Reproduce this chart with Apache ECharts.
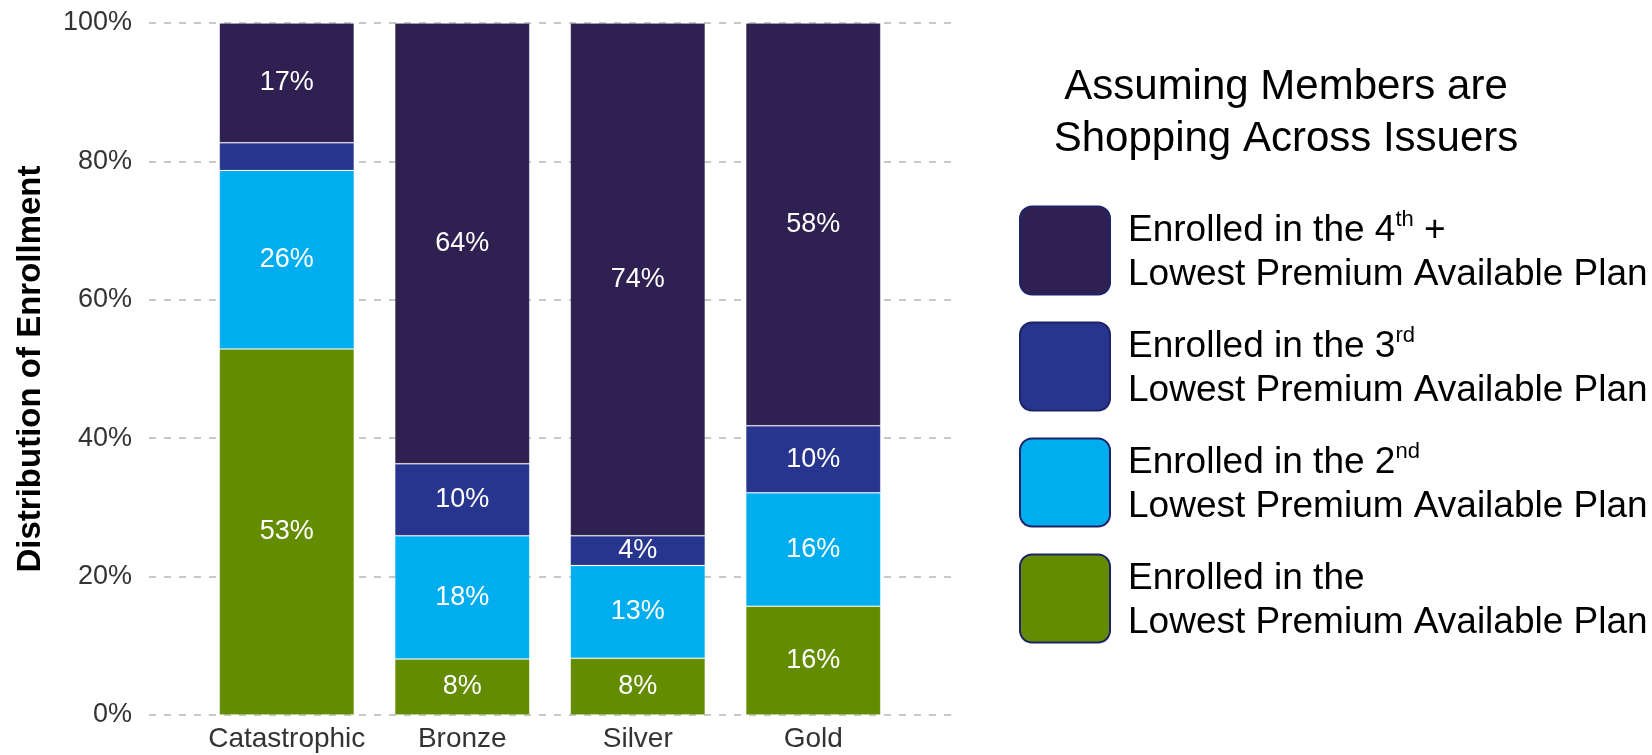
<!DOCTYPE html>
<html>
<head>
<meta charset="utf-8">
<title>Distribution of Enrollment by Metal Level</title>
<script src="https://cdn.jsdelivr.net/npm/echarts@6/dist/echarts.min.js"></script>
<style>
  html, body { margin: 0; padding: 0; background: #ffffff; }
  #chart { width: 1652px; height: 755px; }
</style>
</head>
<body>
<div id="chart"></div>
<script>
// Metal levels along the x axis
const categories = ['Catastrophic', 'Bronze', 'Silver', 'Gold'];

// Share of enrollment (%) by rank of the chosen plan's premium
const lowestPlan     = [52.9,  8.1,  8.2, 15.7];
const secondPlan     = [25.8, 17.8, 13.4, 16.4];
const thirdPlan      = [ 4.0, 10.4,  4.3,  9.7];
const fourthPlusPlan = [17.3, 63.7, 74.1, 58.2];

// Y axis ticks
const yTicks = [0, 20, 40, 60, 80, 100];

// Segments that carry no value label (too thin)
const unlabeled = { third: ['Catastrophic'] };

const FONT = '"Liberation Sans", Arial, Helvetica, sans-serif';

const seriesDefs = [
  { key: 'lowest', values: lowestPlan,     color: '#648c00',
    legend: 'Enrolled in the\nLowest Premium Available Plan' },
  { key: 'second', values: secondPlan,     color: '#00aeef',
    legend: 'Enrolled in the 2{sup|nd}\nLowest Premium Available Plan' },
  { key: 'third',  values: thirdPlan,      color: '#28358f',
    legend: 'Enrolled in the 3{sup|rd}\nLowest Premium Available Plan' },
  { key: 'fourth', values: fourthPlusPlan, color: '#2e2152',
    legend: 'Enrolled in the 4{sup|th} +\nLowest Premium Available Plan' }
];

const legendText = {};
seriesDefs.forEach(d => { legendText[d.key] = d.legend; });

const barSeries = seriesDefs.map(d => ({
  name: d.key,
  type: 'bar',
  xAxisIndex: 1,
  yAxisIndex: 1,
  stack: 'enrollment',
  barWidth: 135,
  z: 3,
  itemStyle: { color: d.color, borderColor: 'rgba(255,255,255,0.12)', borderWidth: 1 },
  label: {
    show: true,
    position: 'inside',
    color: '#ffffff',
    fontFamily: FONT,
    fontSize: 27,
    formatter: p => Math.round(p.value) + '%'
  },
  data: d.values.map((v, i) => {
    const hide = (unlabeled[d.key] || []).indexOf(categories[i]) !== -1;
    return hide ? { value: v, label: { show: false } } : v;
  })
}));

const chart = echarts.init(document.getElementById('chart'), null, { renderer: 'canvas' });

chart.setOption({
  animation: false,
  backgroundColor: '#ffffff',
  title: {
    text: 'Assuming Members are\nShopping Across Issuers',
    left: 1286,
    top: 61,
    padding: 0,
    textAlign: 'center',
    textStyle: {
      fontFamily: FONT,
      fontSize: 42,
      fontWeight: 'normal',
      lineHeight: 52,
      color: '#000000'
    }
  },
  legend: {
    orient: 'vertical',
    left: 1019,
    top: 204,
    padding: 0,
    itemWidth: 90,
    itemHeight: 88,
    itemGap: 23,
    selectedMode: false,
    icon: 'path://M12,0H78A12,12,0,0,1,90,12V76A12,12,0,0,1,78,88H12A12,12,0,0,1,0,76V12A12,12,0,0,1,12,0Z',
    itemStyle: { borderColor: '#1f2466', borderWidth: 2 },
    data: ['fourth', 'third', 'second', 'lowest'],
    formatter: name => legendText[name],
    textStyle: {
      fontFamily: FONT,
      fontSize: 37,
      lineHeight: 44,
      color: '#000000',
      padding: [5, 0, 0, 13],
      rich: {
        sup: { fontFamily: FONT, fontSize: 22, lineHeight: 26, verticalAlign: 'top', color: '#000000' }
      }
    }
  },
  grid: [
    // Grid carrying the y axis labels and the dashed guide lines
    { left: 149, right: 695, top: 23, bottom: 40 },
    // Grid carrying the stacked bars
    { left: 199, right: 751, top: 23, bottom: 40 }
  ],
  xAxis: [
    { gridIndex: 0, type: 'value', min: 0, max: 1, show: false },
    {
      gridIndex: 1,
      type: 'category',
      data: categories,
      axisLine: { show: false },
      axisTick: { show: false },
      axisLabel: { interval: 0, color: '#333333', fontFamily: FONT, fontSize: 28, margin: 10 }
    }
  ],
  yAxis: [
    {
      gridIndex: 0,
      type: 'value',
      min: yTicks[0],
      max: yTicks[yTicks.length - 1],
      interval: yTicks[1] - yTicks[0],
      name: 'Distribution of Enrollment',
      nameLocation: 'middle',
      nameRotate: 90,
      nameGap: 102,
      nameTextStyle: { fontFamily: FONT, fontSize: 33, fontWeight: 'bold', color: '#000000' },
      axisLine: { show: false },
      axisTick: { show: false },
      axisLabel: { color: '#333333', fontFamily: FONT, fontSize: 27, margin: 17, formatter: '{value}%' },
      splitLine: { show: true, lineStyle: { color: '#c8c8c8', width: 2, type: [7, 8] } }
    },
    {
      gridIndex: 1,
      type: 'value',
      min: yTicks[0],
      max: yTicks[yTicks.length - 1],
      interval: yTicks[1] - yTicks[0],
      show: false,
      splitLine: { show: false }
    }
  ],
  series: barSeries
});
</script>
</body>
</html>
